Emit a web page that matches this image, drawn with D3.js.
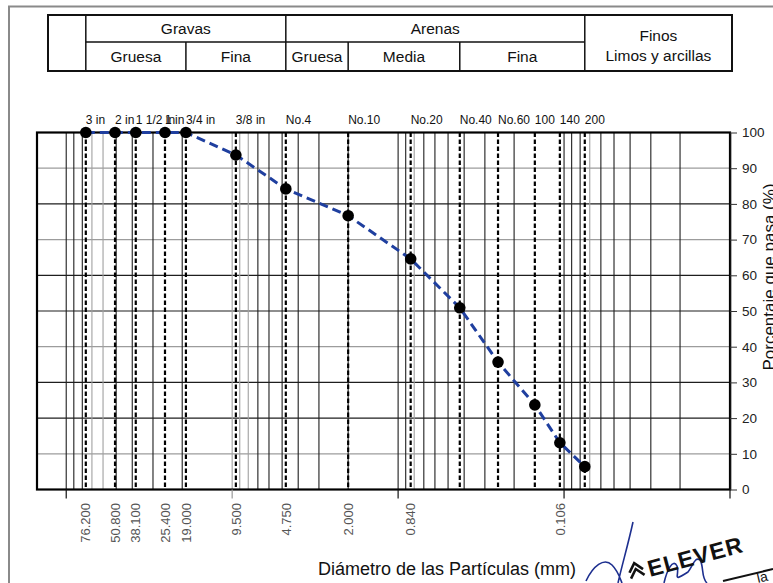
<!DOCTYPE html>
<html>
<head>
<meta charset="utf-8">
<script src="https://cdn.jsdelivr.net/npm/d3@7"></script>
<style>
  body { margin: 0; background: #fff; }
  svg { display: block; font-family: "Liberation Sans", Arial, sans-serif; }
</style>
</head>
<body>
<svg id="chart" width="773" height="583"></svg>
<script>
// sieve openings (mm) and percent passing
var sieveLabels = ["3 in", "2 in", "1 1/2 in", "1 in", "3/4 in", "3/8 in", "No.4", "No.10",
                   "No.20", "No.40", "No.60", "100", "140", "200"];
var sieveSizes = [76.2, 50.8, 38.1, 25.4, 19.0, 9.5, 4.75, 2.0, 0.84, 0.425, 0.25, 0.15, 0.106, 0.075];
var percentPassing = [100, 100, 100, 100, 100, 93.7, 84.2, 76.7, 64.6, 50.9, 35.7, 23.7, 13.1, 6.4];
var sizeTickLabels = [76.2, 50.8, 38.1, 25.4, 19.0, 9.5, 4.75, 2.0, 0.84, 0.106];
var yTicks = [0, 10, 20, 30, 40, 50, 60, 70, 80, 90, 100];

// soil classes of the header table
var groupNames = ["Gravas", "Arenas"];
var groupBounds = [[76.2, 4.75], [4.75, 0.075]];
var subNames = ["Gruesa", "Fina", "Gruesa", "Media", "Fina"];
var subBounds = [[76.2, 19.0], [19.0, 4.75], [4.75, 2.0], [2.0, 0.425], [0.425, 0.075]];

var svg = d3.select("#chart");

var x = d3.scaleLog().domain([150, 0.01]).range([37, 730]);
var y = d3.scaleLinear().domain([0, 100]).range([489.5, 132.5]);

// outer frame of the sheet
svg.append("path")
   .attr("d", "M9,583 L9,6.5 L773,6.5")
   .attr("fill", "none")
   .attr("stroke", "#8a8a8a")
   .attr("stroke-width", 2);

// ---- header table
var tTop = 15, tMid = 42, tBot = 71, tLeft = 48, tRight = 732;
var tab = svg.append("g").attr("stroke", "#111").attr("fill", "none");
tab.append("rect")
   .attr("x", tLeft).attr("y", tTop)
   .attr("width", tRight - tLeft).attr("height", tBot - tTop)
   .attr("stroke-width", 2);
[76.2, 4.75, 0.075].forEach(function(v) {
  tab.append("line").attr("x1", x(v)).attr("x2", x(v))
     .attr("y1", tTop).attr("y2", tBot).attr("stroke-width", 1.5);
});
tab.append("line").attr("x1", x(76.2)).attr("x2", x(0.075))
   .attr("y1", tMid).attr("y2", tMid).attr("stroke-width", 1.5);
[19.0, 2.0, 0.425].forEach(function(v) {
  tab.append("line").attr("x1", x(v)).attr("x2", x(v))
     .attr("y1", tMid).attr("y2", tBot).attr("stroke-width", 1.5);
});

svg.selectAll(".group-label")
   .data(groupNames)
   .join("text")
   .attr("class", "group-label")
   .attr("x", function(d, i) { return (x(groupBounds[i][0]) + x(groupBounds[i][1])) / 2; })
   .attr("y", (tTop + tMid) / 2 + 5.5)
   .attr("text-anchor", "middle")
   .style("font-size", "15.5px")
   .style("fill", "#111")
   .text(function(d) { return d; });

svg.selectAll(".sub-label")
   .data(subNames)
   .join("text")
   .attr("class", "sub-label")
   .attr("x", function(d, i) { return (x(subBounds[i][0]) + x(subBounds[i][1])) / 2; })
   .attr("y", (tMid + tBot) / 2 + 5.5)
   .attr("text-anchor", "middle")
   .style("font-size", "15.5px")
   .style("fill", "#111")
   .text(function(d) { return d; });

var finosX = (x(0.075) + tRight) / 2;
svg.append("text").attr("x", finosX).attr("y", 41)
   .attr("text-anchor", "middle").style("font-size", "15.5px").style("fill", "#111")
   .text("Finos");
svg.append("text").attr("x", finosX).attr("y", 61)
   .attr("text-anchor", "middle").style("font-size", "15.5px").style("fill", "#111")
   .text("Limos y arcillas");

// ---- grid
var greyH = [10, 40, 70, 90];
svg.selectAll(".hgrid")
   .data(yTicks.filter(function(v) { return v > 0 && v < 100; }))
   .join("line")
   .attr("class", "hgrid")
   .attr("x1", x.range()[0]).attr("x2", x.range()[1])
   .attr("y1", function(d) { return y(d); })
   .attr("y2", function(d) { return y(d); })
   .attr("stroke", function(d) { return greyH.indexOf(d) >= 0 ? "#9c9c9c" : "#1e1e1e"; })
   .attr("stroke-width", 1.2);

var greyV = [70, 60, 10, 9, 8, 0.8, 0.07];
var vTicks = x.ticks().filter(function(v) { return v < 150 && v > 0.0101; });
svg.selectAll(".vgrid")
   .data(vTicks)
   .join("line")
   .attr("class", "vgrid")
   .attr("x1", function(d) { return x(d); })
   .attr("x2", function(d) { return x(d); })
   .attr("y1", y(0)).attr("y2", y(100))
   .attr("stroke", function(d) {
     return greyV.indexOf(+d.toPrecision(3)) >= 0 ? "#a0a0a0" : "#1e1e1e";
   })
   .attr("stroke-width", 1.1);

// dashed sieve lines
svg.selectAll(".sieve")
   .data(sieveSizes)
   .join("line")
   .attr("class", "sieve")
   .attr("x1", function(d) { return x(d); })
   .attr("x2", function(d) { return x(d); })
   .attr("y1", y(100)).attr("y2", y(0))
   .attr("stroke", "#000")
   .attr("stroke-width", 2.2)
   .attr("stroke-dasharray", "4.5,2.5");

// plot border
svg.append("rect")
   .attr("x", x.range()[0]).attr("y", y(100))
   .attr("width", x.range()[1] - x.range()[0])
   .attr("height", y(0) - y(100))
   .attr("fill", "none")
   .attr("stroke", "#000")
   .attr("stroke-width", 2.2);

// decade ticks under the x axis
var decades = x.ticks().filter(function(v) { return Math.abs(Math.log10(v) - Math.round(Math.log10(v))) < 1e-6; });
svg.selectAll(".xtick")
   .data(decades)
   .join("line")
   .attr("class", "xtick")
   .attr("x1", function(d) { return x(d); })
   .attr("x2", function(d) { return x(d); })
   .attr("y1", y(0)).attr("y2", y(0) + 9)
   .attr("stroke", function(d) { return d === 10 ? "#999" : "#111"; })
   .attr("stroke-width", 1.2);

// right y axis
var yAxis = d3.axisRight(y).tickValues(yTicks).tickSize(7).tickSizeOuter(0).tickPadding(5);
var yg = svg.append("g")
   .attr("transform", "translate(" + x.range()[1] + ",0)")
   .call(yAxis);
yg.select(".domain").attr("stroke", "#111").attr("stroke-width", 1.5);
yg.selectAll(".tick line").attr("stroke", "#333");
yg.selectAll(".tick text")
   .style("font-size", "13.5px")
   .style("font-family", "'Liberation Sans', Arial, sans-serif")
   .attr("fill", "#222");

// size labels below
svg.selectAll(".size-label")
   .data(sizeTickLabels)
   .join("text")
   .attr("class", "size-label")
   .attr("transform", function(d) { return "translate(" + x(d) + "," + 503 + ") rotate(-90)"; })
   .attr("text-anchor", "end")
   .attr("dy", "0.36em")
   .style("font-size", "13px")
   .style("fill", "#555")
   .text(function(d) { return d3.format(".3f")(d); });

// sieve names on top
svg.selectAll(".sieve-label")
   .data(sieveLabels)
   .join("text")
   .attr("class", "sieve-label")
   .attr("x", function(d, i) { return x(sieveSizes[i]); })
   .attr("y", 124)
   .attr("text-anchor", "start")
   .style("font-size", "12px")
   .style("fill", "#111")
   .text(function(d) { return d; });

// gradation curve
var curve = d3.line()
   .x(function(d, i) { return x(sieveSizes[i]); })
   .y(function(d) { return y(d); });

svg.append("path")
   .datum(percentPassing)
   .attr("fill", "none")
   .attr("stroke", "#1f3f9f")
   .attr("stroke-width", 3)
   .attr("stroke-dasharray", "9,5")
   .attr("d", curve);

svg.selectAll(".pt")
   .data(percentPassing)
   .join("circle")
   .attr("class", "pt")
   .attr("cx", function(d, i) { return x(sieveSizes[i]); })
   .attr("cy", function(d) { return y(d); })
   .attr("r", 5.8)
   .attr("fill", "#000");

// axis titles
svg.append("text")
   .attr("x", 447).attr("y", 575)
   .attr("text-anchor", "middle")
   .style("font-size", "18px")
   .style("fill", "#111")
   .text("Diámetro de las Partículas (mm)");

svg.append("text")
   .attr("transform", "translate(775,277) rotate(-90)")
   .attr("text-anchor", "middle")
   .style("font-size", "17px")
   .style("fill", "#111")
   .text("Porcentaje que pasa (%)");

// stamp and signature
var stamp = svg.append("g");
stamp.append("path")
   .attr("d", "M633,522 C628,545 622,565 618,583 M586,581 C593,566 604,557 612,565 C618,571 620,578 622,583 M664,583 C667,570 673,558 677,566 C680,575 671,583 688,572 C693,566 695,556 700,560 C704,566 701,578 707,583")
   .attr("fill", "none")
   .attr("stroke", "#1d2f8f")
   .attr("stroke-width", 1.6);
stamp.append("text")
   .attr("transform", "translate(650,577) rotate(-15)")
   .style("font-size", "23px")
   .style("font-weight", "bold")
   .style("letter-spacing", "1px")
   .style("fill", "#111")
   .text("ELEVER");
stamp.append("path")
   .attr("d", "M629,577 L636,569 L643,577 M629,571 L636,563 L643,571")
   .attr("transform", "rotate(-15,636,570)")
   .attr("fill", "none")
   .attr("stroke", "#111")
   .attr("stroke-width", 2.6);
stamp.append("path")
   .attr("d", "M723,581 L773,569")
   .attr("stroke", "#111")
   .attr("stroke-width", 2);
stamp.append("text")
   .attr("transform", "translate(758,583) rotate(-13)")
   .style("font-size", "14px")
   .style("fill", "#111")
   .text("la");
</script>
</body>
</html>
